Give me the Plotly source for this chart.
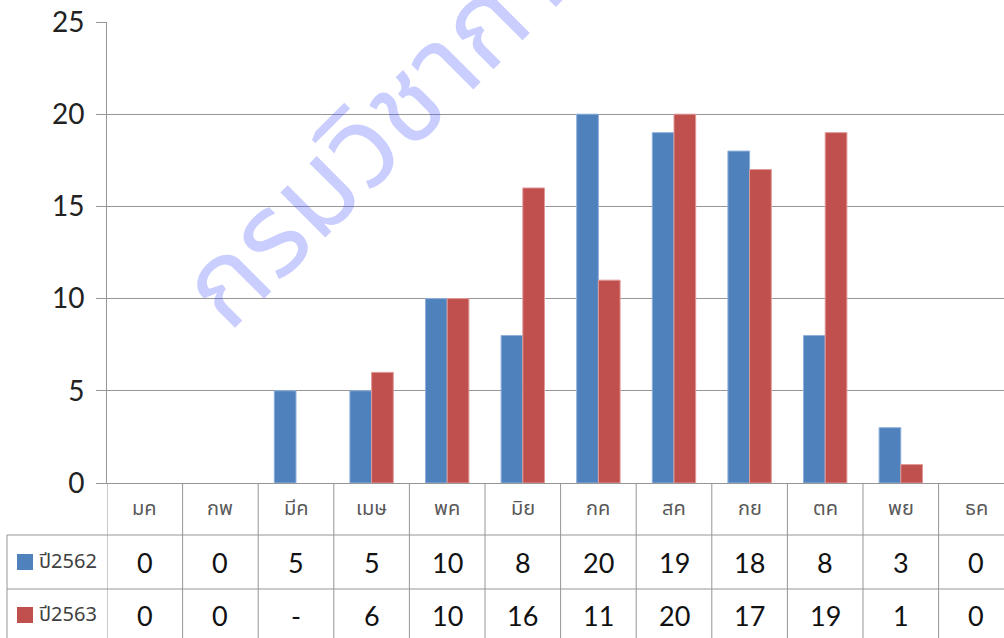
import plotly.graph_objects as go

# Monthly counts, two years (Thai Buddhist era), with the data table underneath
months = ["มค", "กพ", "มีค", "เมษ", "พค", "มิย", "กค", "สค", "กย", "ตค", "พย", "ธค"]
series_names = ["ปี2562", "ปี2563"]
cases_2562 = [0, 0, 5, 5, 10, 8, 20, 19, 18, 8, 3, 0]
cases_2563 = [0, 0, None, 6, 10, 16, 11, 20, 17, 19, 1, 0]
y_ticks = [0, 5, 10, 15, 20, 25]

colors = ["#4f81bd", "#c0504d"]
edge_colors = ["#8fb0dc", "#e09a98"]

W, H = 1004, 638
L, T, B = 107, 22, 155
plot_w = W - L
plot_h = H - T - B
col_w = 75.6  # width of one month column in pixels


def px_x(px):
    return (px - L) / plot_w


def px_y(py):
    return (H - B - py) / plot_h


x_pos = list(range(len(months)))
series = [cases_2562, cases_2563]

fig = go.Figure()
for name, vals, c, ec in zip(series_names, series, colors, edge_colors):
    # no outline on empty bars so nothing is drawn on the baseline
    widths = [1 if v else 0 for v in vals]
    fig.add_trace(go.Bar(
        x=x_pos, y=vals, name=name,
        marker=dict(color=c, line=dict(color=ec, width=widths)),
        showlegend=False,
    ))

grid_col = "#969696"
num_font = "Lato, Carlito, Calibri, sans-serif"
thai_font = "Noto Sans Thai, Tahoma, Leelawadee, sans-serif"

shapes = []
annotations = []

# Table: column dividers below the axis
for i in range(len(months) + 1):
    shapes.append(dict(type="line", xref="x", yref="paper",
                       x0=i - 0.5, x1=i - 0.5, y0=0, y1=px_y(H + 10),
                       line=dict(color=grid_col, width=1)))
# Table: row separators and left border
for ry in (535, 589):
    shapes.append(dict(type="line", xref="paper", yref="paper",
                       x0=px_x(7), x1=px_x(W + 10), y0=px_y(ry), y1=px_y(ry),
                       line=dict(color=grid_col, width=1)))
shapes.append(dict(type="line", xref="paper", yref="paper",
                   x0=px_x(7), x1=px_x(7), y0=px_y(535), y1=px_y(H + 10),
                   line=dict(color=grid_col, width=1)))

# Header row: month names
for i, m in enumerate(months):
    annotations.append(dict(x=i, y=px_y(509), xref="x", yref="paper",
                            text=m, showarrow=False, xanchor="center", yanchor="middle",
                            font=dict(family=thai_font, size=20, color="#595959")))

# Value rows with legend keys
row_centers = [562, 615]
for r, (name, vals, c) in enumerate(zip(series_names, series, colors)):
    cy = row_centers[r]
    shapes.append(dict(type="rect", xref="paper", yref="paper",
                       x0=px_x(17), x1=px_x(33), y0=px_y(cy + 8), y1=px_y(cy - 8),
                       fillcolor=c, line=dict(width=0)))
    annotations.append(dict(x=px_x(37), y=px_y(cy), xref="paper", yref="paper",
                            text=name, showarrow=False, xanchor="left", yanchor="middle",
                            font=dict(family=thai_font, size=20, color="#404040")))
    for i, v in enumerate(vals):
        annotations.append(dict(x=i, y=px_y(cy), xref="x", yref="paper",
                                text="-" if v is None else str(v), showarrow=False,
                                xanchor="center", yanchor="middle",
                                font=dict(family=num_font, size=27, color="#111111")))

# Watermark
annotations.append(dict(x=px_x(139), y=px_y(374), xref="paper", yref="paper",
                        text="กรมวิชาการเกษตร", showarrow=False, textangle=-45,
                        xanchor="left", yanchor="bottom",
                        font=dict(family=thai_font, size=116,
                                  color="rgba(60,80,250,0.28)")))

fig.update_layout(
    width=W, height=H,
    margin=dict(l=L, r=0, t=T, b=B, pad=0),
    paper_bgcolor="white", plot_bgcolor="white",
    barmode="group", bargap=0.426, bargroupgap=0,
    shapes=shapes, annotations=annotations,
    xaxis=dict(range=[-0.5, -0.5 + plot_w / col_w], showticklabels=False,
               showgrid=False, zeroline=False, showline=True,
               linecolor=grid_col, linewidth=1, ticks=""),
    yaxis=dict(range=[0, 25], tickvals=y_ticks, showgrid=True,
               gridcolor=grid_col, gridwidth=1, zeroline=False,
               showline=True, linecolor=grid_col, linewidth=1,
               ticks="outside", ticklen=10, tickcolor=grid_col,
               ticklabelstandoff=6,
               tickfont=dict(family=num_font, size=28, color="#222222")),
)

fig.write_html("out.html")
